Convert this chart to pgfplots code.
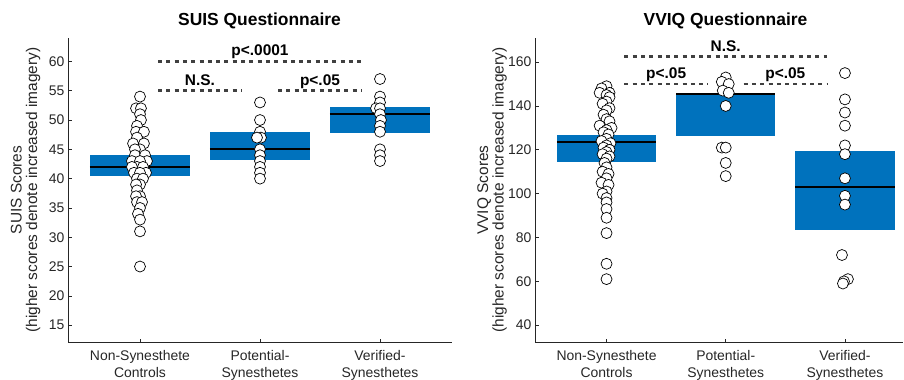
\documentclass[border=0pt]{standalone}
\usepackage{fontspec}
\setmainfont{Liberation Sans}
\usepackage{pgfplots}
\usepackage{pgfplotstable}
\pgfplotsset{compat=1.18}
\definecolor{barblue}{HTML}{0072BD}
\definecolor{axgray}{HTML}{262626}
\definecolor{siggray}{HTML}{404040}

\pgfplotstableread{
x y
1.000 54
0.967 52
1.008 52
1.000 51
1.008 50
0.975 49
0.967 48
1.033 48
0.975 47
0.942 46
1.033 46
1.000 45
0.958 45
0.958 44
1.042 44
0.933 43
1.058 43
1.000 43
0.975 42
1.025 42
0.933 42
0.950 41
1.050 41
1.000 41
0.975 40
1.025 40
1.000 39
0.967 39
0.975 38
1.000 37
0.967 37
0.975 36
1.017 36
1.000 35
0.983 34
1.000 33
1.000 31
1.000 25
}\suisA
\pgfplotstableread{
x y
2.000 53
2.000 50
2.000 48
2.008 47
1.975 47
2.000 45
2.000 44
2.000 43
2.000 42
2.000 41
2.000 40
}\suisB
\pgfplotstableread{
x y
3.000 57
3.000 54
3.000 53
2.967 52
3.000 52
3.000 51
3.008 50
3.000 49
3.000 48
3.000 45
3.000 44
3.000 43
}\suisC
\pgfplotstableread{
x y
1.000 149
0.958 148
0.942 146
1.025 146
1.000 145
1.025 144
1.000 142
0.967 141
1.025 139
1.000 138
0.975 136
1.000 134
1.025 133
0.942 131
1.042 130
1.000 129
0.975 128
1.017 127
1.000 125
0.958 124
1.033 123
1.000 122
0.975 121
1.025 120
1.000 119
0.967 118
1.025 117
1.000 116
0.983 114
1.000 112
0.967 110
1.017 109
1.000 107
0.958 105
1.017 104
1.000 101
0.967 100
1.000 98
1.000 96
1.000 93
1.000 89
1.000 82
1.000 68
1.000 61
}\vviqA
\pgfplotstableread{
x y
2.000 153
1.967 151
2.025 150
1.975 147
2.025 146
2.000 140
1.967 121
2.000 121
2.000 114
2.000 108
}\vviqB
\pgfplotstableread{
x y
3.000 155
3.000 143
3.000 137
3.000 131
3.000 122
3.000 118
3.000 107
3.000 99
3.000 95
2.975 72
3.025 61
2.992 60
2.983 59
}\vviqC

\pgfplotsset{
  myax/.style={
    scale only axis,
    axis x line=bottom, axis y line=left,
    axis line style={-, axgray, line width=0.6bp},
    tick align=inside, major tick length=4bp,
    tick style={axgray, line width=0.6bp},
    xtick={1,2,3},
    xticklabels={{Non-Synesthete\\Controls},{Potential-\\Synesthetes},{Verified-\\Synesthetes}},
    xticklabel style={align=center, font=\fontsize{14}{17}\selectfont, text=axgray, yshift=-4bp},
    yticklabel style={font=\fontsize{14}{17}\selectfont, text=axgray},
    /pgf/number format/assume math mode=true,
    clip=false,
  },
  pts/.style={only marks, mark=*, mark size=5.5bp, mark options={fill=white, draw=black, line width=0.7bp}},
  bar/.style={fill=barblue, draw=none},
  med/.style={black, line width=1.8bp},
  sig/.style={siggray, line width=2.7bp, dash pattern=on 4bp off 4.3bp},
}
\newcommand{\sigfont}{\bfseries\fontsize{15.5}{18}\selectfont}

\begin{document}
\begin{tikzpicture}
\path[use as bounding box] (0,0) rectangle (904bp,380bp);

\begin{axis}[myax, at={(68bp,37.3bp)}, anchor=south west,
  width=384bp, height=304.7bp,
  xmin=0.4, xmax=3.6, ymin=12, ymax=64,
  ytick={15,20,...,60}]
  \addplot[bar] coordinates {(0.583,40.4) (1.417,40.4) (1.417,44.0) (0.583,44.0)} -- cycle;
  \addplot[bar] coordinates {(1.583,43.2) (2.417,43.2) (2.417,47.9) (1.583,47.9)} -- cycle;
  \addplot[bar] coordinates {(2.583,47.8) (3.417,47.8) (3.417,52.2) (2.583,52.2)} -- cycle;
  \addplot[med] coordinates {(0.583,42) (1.417,42)};
  \addplot[med] coordinates {(1.583,45) (2.417,45)};
  \addplot[med] coordinates {(2.583,51) (3.417,51)};
  \addplot[pts] table {\suisA};
  \addplot[pts] table {\suisB};
  \addplot[pts] table {\suisC};
  \addplot[sig] coordinates {(1.15,55) (1.85,55)};
  \addplot[sig] coordinates {(2.15,55) (2.85,55)};
  \addplot[sig] coordinates {(1.15,60) (2.85,60)};
  \node[font=\sigfont, anchor=base, yshift=5.5bp] at (axis cs:1.5,55) {N.S.};
  \node[font=\sigfont, anchor=base, yshift=5.5bp] at (axis cs:2.5,55) {p<.05};
  \node[font=\sigfont, anchor=base, yshift=5.5bp] at (axis cs:2,60) {p<.0001};
\end{axis}

\begin{axis}[myax, at={(535bp,37.3bp)}, anchor=south west,
  width=368bp, height=304.7bp,
  xmin=0.4, xmax=3.487, ymin=32, ymax=171,
  ytick={40,60,...,160}]
  \addplot[bar] coordinates {(0.583,114.3) (1.417,114.3) (1.417,126.9) (0.583,126.9)} -- cycle;
  \addplot[bar] coordinates {(1.583,126.1) (2.417,126.1) (2.417,145.8) (1.583,145.8)} -- cycle;
  \addplot[bar] coordinates {(2.583,83.3) (3.417,83.3) (3.417,119.6) (2.583,119.6)} -- cycle;
  \addplot[med] coordinates {(0.583,123.5) (1.417,123.5)};
  \addplot[med] coordinates {(1.583,145.3) (2.417,145.3)};
  \addplot[med] coordinates {(2.583,103) (3.417,103)};
  \addplot[pts] table {\vviqA};
  \addplot[pts] table {\vviqB};
  \addplot[pts] table {\vviqC};
  \addplot[sig] coordinates {(1.15,150) (1.85,150)};
  \addplot[sig] coordinates {(2.15,150) (2.85,150)};
  \addplot[sig] coordinates {(1.15,162.5) (2.85,162.5)};
  \node[font=\sigfont, anchor=base, yshift=5.5bp] at (axis cs:1.5,150) {p<.05};
  \node[font=\sigfont, anchor=base, yshift=5.5bp] at (axis cs:2.5,150) {p<.05};
  \node[font=\sigfont, anchor=base, yshift=5.5bp] at (axis cs:2,162.5) {N.S.};
\end{axis}

\node[font=\bfseries\fontsize{17.5}{20}\selectfont, anchor=base] at (259.5bp,354bp) {SUIS Questionnaire};
\node[font=\bfseries\fontsize{17.5}{20}\selectfont, anchor=base] at (725.5bp,354bp) {VVIQ Questionnaire};
\node[rotate=90, align=center, font=\fontsize{15.5}{15.5}\selectfont, text=axgray] at (25.5bp,190bp) {SUIS Scores\\(higher scores denote increased imagery)};
\node[rotate=90, align=center, font=\fontsize{15.5}{15.5}\selectfont, text=axgray] at (492bp,190bp) {VVIQ Scores\\(higher scores denote increased imagery)};
\end{tikzpicture}
\end{document}
